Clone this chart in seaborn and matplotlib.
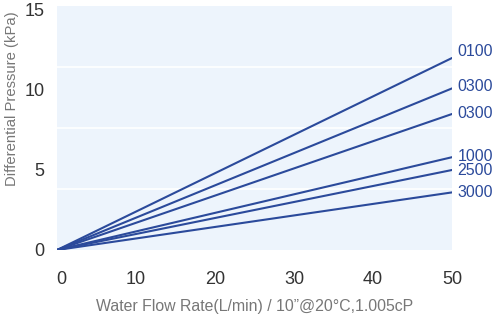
import matplotlib
matplotlib.use("Agg")
import matplotlib.pyplot as plt
import matplotlib.transforms as mtransforms
import seaborn as sns
import pandas as pd
import numpy as np

flow = [0, 50]
series_names = ["0100", "0300", "0300 ", "1000", "2500", "3000"]
end_values = [12.0, 10.1, 8.5, 5.8, 5.0, 3.6]
label_values = [12.4, 10.2, 8.55, 5.85, 4.95, 3.6]
x_ticks = [0, 10, 20, 30, 40, 50]
y_ticks = [0, 5, 10, 15]

rows = []
for name, v in zip(series_names, end_values):
    rows.append({"flow": flow[0], "dp": 0.0, "series": name})
    rows.append({"flow": flow[1], "dp": v, "series": name})
df = pd.DataFrame(rows)

sns.set_theme(style="white")
plt.rcParams["font.family"] = ["Liberation Sans", "DejaVu Sans"]

line_color = "#2b4a9b"
fig = plt.figure(figsize=(4.98, 3.22), dpi=100)
ax = fig.add_axes([57/498, 72/322, (452-57)/498, (250-6)/322])
ax.set_facecolor("#edf4fc")

sns.lineplot(data=df, x="flow", y="dp", hue="series",
             palette=[line_color]*len(series_names), linewidth=1.5,
             legend=False, ax=ax)

ax.set_xlim(0, 50)
ax.set_ylim(0, 15.25)
ax.set_xticks(x_ticks)
ax.set_yticks(y_ticks)
ax.set_xticks([10, 20, 30, 40], minor=True)
ax.set_yticks([15.25/4, 15.25/2, 15.25*3/4], minor=True)
ax.grid(False)
ax.grid(True, which="minor", color="white", linewidth=1.2)
ax.tick_params(which="both", length=0)
ax.tick_params(axis="y", pad=9, labelsize=13, labelcolor="#333333")
ax.tick_params(axis="x", pad=15, labelsize=13, labelcolor="#333333")
for s in ax.spines.values():
    s.set_visible(False)

fig.canvas.draw()
first = ax.get_xticklabels()[0]
first.set_transform(first.get_transform() +
                    mtransforms.ScaledTranslation(4/100, 0, fig.dpi_scale_trans))

ax.set_xlabel("Water Flow Rate(L/min) / 10\u201d@20\u00b0C,1.005cP",
              fontsize=11.4, color="#777777", labelpad=8)
ax.set_ylabel("Differential Pressure (kPa)", fontsize=10.7, color="#777777")
ax.yaxis.set_label_coords(-0.097, 0.62)

for name, ly in zip(series_names, label_values):
    ax.text(50.7, ly, name.strip(), color=line_color, fontsize=11.5,
            va="center", ha="left", clip_on=False)

fig.savefig("out.png", dpi=100)
